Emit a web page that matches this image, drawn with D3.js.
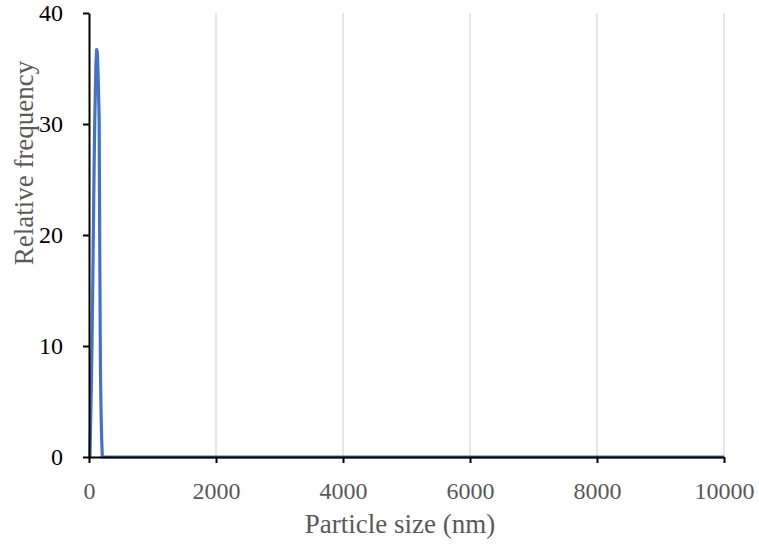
<!DOCTYPE html>
<html lang="en">
<head>
  <meta charset="UTF-8">
  <title>Particle size distribution</title>
  <script src="https://d3js.org/d3.v7.min.js"></script>
  <style>
    body { margin: 0; background: #fff; }
    svg { font-family: "Liberation Serif", "Times New Roman", serif; }
  </style>
</head>
<body>
<svg width="759" height="547"></svg>
<script>
// particle size (nm) and relative frequency
const sizes = [0, 15, 25, 35, 47, 60, 70, 80, 90, 100, 110, 120, 130, 140, 150, 160, 170, 180, 190, 200, 210, 500, 1000, 5000, 10000];
const freqs = [0, 0, 3, 6, 10, 16, 21, 26, 30, 33, 35.5, 36.7, 36.5, 35, 33, 30.5, 18, 8, 4, 1.5, 0, 0, 0, 0, 0];
const xTicks = [0, 2000, 4000, 6000, 8000, 10000];
const yTicks = [0, 10, 20, 30, 40];

const data = sizes.map((s, i) => ({ x: s, y: freqs[i] }));

const svg = d3.select("svg");
const margin = { left: 89, right: 35, top: 13, bottom: 90 };
const W = 759, H = 547;

const x = d3.scaleLinear().domain([0, 10000]).range([margin.left, W - margin.right]);
const y = d3.scaleLinear().domain([0, 40]).range([H - margin.bottom, margin.top]);

// vertical gridlines
svg.append("g")
  .selectAll("line")
  .data(xTicks.slice(1))
  .enter().append("line")
  .attr("x1", d => x(d)).attr("x2", d => x(d))
  .attr("y1", y(40)).attr("y2", y(0))
  .attr("stroke", "#d9d9d9")
  .attr("stroke-width", 1.3);

// data line
svg.append("path")
  .datum(data)
  .attr("fill", "none")
  .attr("stroke", "#4472C4")
  .attr("stroke-width", 3.2)
  .attr("stroke-linejoin", "round")
  .attr("d", d3.line().x(d => x(d.x)).y(d => y(d.y)));

// x axis
const xAxis = svg.append("g")
  .attr("transform", `translate(0,${y(0)})`)
  .call(d3.axisBottom(x).tickValues(xTicks).tickSize(6).tickSizeOuter(0).tickPadding(19).tickFormat(d3.format("d")));
xAxis.select(".domain").attr("stroke", "#000").attr("stroke-width", 2);
xAxis.selectAll(".tick line").attr("stroke", "#000").attr("stroke-width", 2);
xAxis.selectAll("text").attr("font-size", 24).attr("fill", "#595959")
  .attr("font-family", "Liberation Serif, Times New Roman, serif");

// y axis
const yAxis = svg.append("g")
  .attr("transform", `translate(${x(0)},0)`)
  .call(d3.axisLeft(y).tickValues(yTicks).tickSize(6).tickSizeOuter(0).tickPadding(20));
yAxis.select(".domain").attr("stroke", "#000").attr("stroke-width", 2);
yAxis.selectAll(".tick line").attr("stroke", "#000").attr("stroke-width", 2);
yAxis.selectAll("text").attr("font-size", 24).attr("fill", "#000")
  .attr("font-family", "Liberation Serif, Times New Roman, serif");

// axis titles
svg.append("text")
  .attr("x", 400)
  .attr("y", 533)
  .attr("text-anchor", "middle")
  .attr("font-size", 27)
  .attr("fill", "#595959")
  .text("Particle size (nm)");

svg.append("text")
  .attr("transform", "translate(33,163) rotate(-90)")
  .attr("text-anchor", "middle")
  .attr("font-size", 27)
  .attr("fill", "#595959")
  .text("Relative frequency");
</script>
</body>
</html>
